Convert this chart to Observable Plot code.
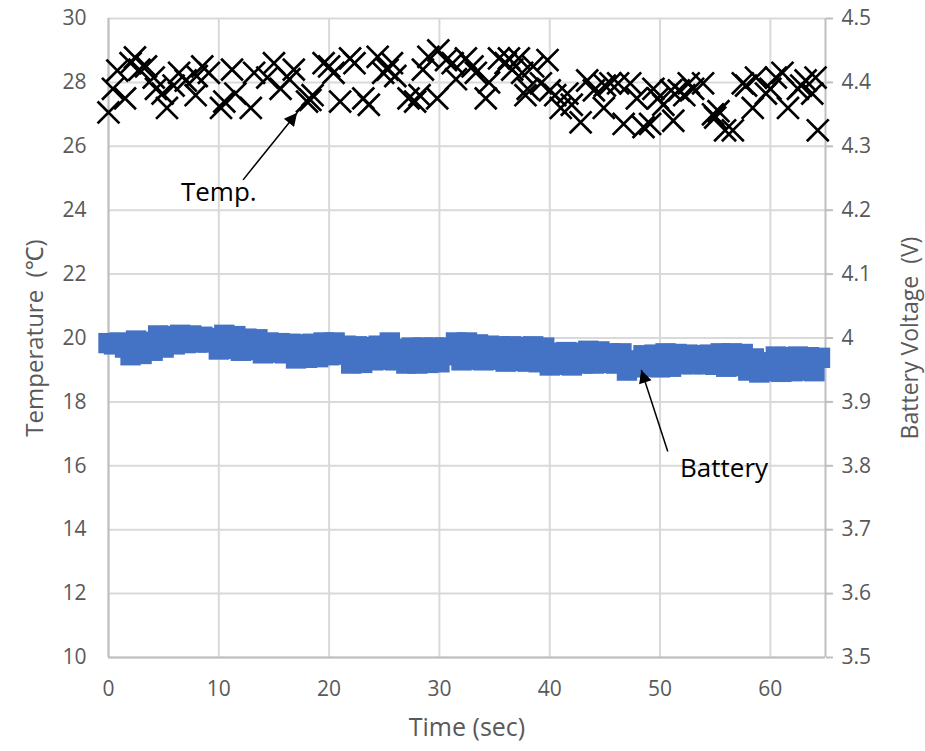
<!DOCTYPE html>
<html><head><meta charset="utf-8">
<script src="https://cdn.jsdelivr.net/npm/d3@7"></script>
<script src="https://cdn.jsdelivr.net/npm/@observablehq/plot@0.6"></script>
<style>
body{margin:0;background:#fff;}
svg{font-family:"Open Sans","Noto Sans",sans-serif;}
</style>
</head><body><div id="chart"></div>
<script>
// Temperature samples (time in s, °C)
const tempTime = [0.0,0.4,0.8,1.5,2.0,2.4,2.8,3.4,4.1,4.3,4.9,5.3,5.9,6.4,7.0,7.9,8.0,8.5,9.1,10.2,10.5,11.2,11.5,12.9,13.2,14.4,15.0,15.6,16.4,16.8,18.0,18.3,18.5,19.5,20.0,20.4,21.0,21.9,22.3,23.1,23.6,24.4,24.9,25.3,25.7,26.0,27.2,27.8,28.2,28.5,29.0,29.8,29.9,30.6,31.2,31.5,32.4,33.0,33.3,34.2,34.5,35.4,36.0,36.3,36.6,37.2,37.5,37.8,38.0,38.5,39.2,39.8,40.0,40.5,41.0,41.6,42.0,42.8,43.4,44.0,44.9,45.0,45.5,46.2,46.7,47.3,47.9,48.5,49.1,49.4,49.8,50.3,51.0,51.2,51.7,52.2,52.6,53.0,53.9,54.8,55.0,55.3,55.9,56.6,57.5,57.8,58.4,58.7,59.6,60.0,60.5,61.1,61.6,62.5,62.8,63.2,63.8,64.1,64.3];
const tempValue = [27.06,27.8,28.37,27.5,28.6,28.78,28.4,28.5,28.15,27.8,27.65,27.2,27.9,28.3,28.06,27.6,28.2,28.5,28.3,27.2,27.4,28.4,27.65,27.2,28.3,28.15,28.6,27.8,28.1,28.4,27.4,27.45,27.6,28.6,28.5,28.3,27.4,28.75,28.6,27.5,27.3,28.8,28.3,28.4,28.6,28.2,27.5,27.4,27.6,28.4,28.8,27.5,29.0,28.7,28.6,28.1,28.75,28.5,28.3,27.5,28.0,28.75,28.6,28.75,28.4,28.75,28.3,27.6,27.8,28.5,27.97,28.7,27.75,27.6,27.2,27.65,27.3,26.75,28.06,27.75,27.2,27.9,27.97,27.97,26.7,27.97,27.5,26.6,26.7,27.8,27.5,27.3,27.75,26.8,27.75,27.6,27.97,27.8,27.97,27.0,26.9,27.1,26.5,26.5,27.97,27.9,27.2,28.15,27.65,27.8,28.15,28.3,27.2,27.8,27.9,28.06,27.65,28.15,26.5];

// Battery samples (time in s, volts)
const battTime = [0,0.5,1,1.5,2,2.5,3,3.5,4,4.5,5,5.5,6,6.5,7,7.5,8,8.5,9,9.5,10,10.5,11,11.5,12,12.5,13,13.5,14,14.5,15,15.5,16,16.5,17,17.5,18,18.5,19,19.5,20,20.5,21,21.5,22,22.5,23,23.5,24,24.5,25,25.5,26,26.5,27,27.5,28,28.5,29,29.5,30,30.5,31,31.5,32,32.5,33,33.5,34,34.5,35,35.5,36,36.5,37,37.5,38,38.5,39,39.5,40,40.5,41,41.5,42,42.5,43,43.5,44,44.5,45,45.5,46,46.5,47,47.5,48,48.5,49,49.5,50,50.5,51,51.5,52,52.5,53,53.5,54,54.5,55,55.5,56,56.5,57,57.5,58,58.5,59,59.5,60,60.5,61,61.5,62,62.5,63,63.5,64,64.5];
const battVolt = [3.992,3.990,3.993,3.985, 3.973,3.996,3.975,3.994, 3.980,4.004,3.985,4.003, 3.990,4.005,3.992,4.004,
  3.993,4.002,3.993,4.000, 3.982,4.005,3.983,4.003, 3.980,3.999,3.981,3.998, 3.976,3.993,3.977,3.992,
  3.976,3.991,3.968,3.990, 3.969,3.991,3.970,3.993, 3.973,3.993,3.974,3.988, 3.960,3.987,3.961,3.986,
  3.965,3.988,3.966,3.993, 3.965,3.983,3.960,3.985, 3.960,3.985,3.961,3.985, 3.962,3.985,3.973,3.993,
  3.965,3.993,3.966,3.990, 3.965,3.988,3.966,3.987, 3.963,3.987,3.964,3.986, 3.963,3.987,3.962,3.985,
  3.957,3.977,3.958,3.978, 3.957,3.977,3.960,3.980, 3.960,3.979,3.961,3.976, 3.960,3.976,3.949,3.965,
  3.954,3.973,3.955,3.974, 3.954,3.976,3.955,3.975, 3.959,3.974,3.959,3.973, 3.959,3.974,3.958,3.976,
  3.955,3.976,3.956,3.975, 3.949,3.968,3.946,3.962, 3.948,3.971,3.947,3.970, 3.948,3.971,3.949,3.970,
  3.948,3.969];

// Axes
const xTicks = [0,10,20,30,40,50,60];
const tempTicks = [10,12,14,16,18,20,22,24,26,28,30];
const voltTickLabels = ["3.5","3.6","3.7","3.8","3.9","4","4.1","4.2","4.3","4.4","4.5"];
const voltMin = 3.5, voltMax = 4.5, tempMin = 10, tempMax = 30;

// Annotations (time, °C)
const annotLabels = ["Temp.","Battery"];
const annotTextT = [10.0, 55.8];
const annotTextY = [24.55, 15.92];
const arrowFromT = [12.2, 50.7];
const arrowFromY = [24.95, 16.45];
const arrowToT = [17.1, 48.3];
const arrowToY = [27.05, 19.0];

const toTemp = v => tempMin + (v - voltMin) / (voltMax - voltMin) * (tempMax - tempMin);

const temp = tempTime.map((t, i) => ({t, v: tempValue[i]}));
const batt = battTime.map((t, i) => ({t, v: toTemp(battVolt[i])}));
const annots = annotLabels.map((label, i) => ({label, t: annotTextT[i], y: annotTextY[i],
  x1: arrowFromT[i], y1: arrowFromY[i], x2: arrowToT[i], y2: arrowToY[i]}));

const gray = "#595959";
const gridC = "#d9d9d9";
const axisC = "#bfbfbf";

const plot = Plot.plot({
  width: 925,
  height: 751,
  marginLeft: 108,
  marginRight: 100,
  marginTop: 18,
  marginBottom: 94,
  x: {domain: [0, 65]},
  y: {domain: [tempMin, tempMax]},
  style: {fontSize: "21px", color: gray, background: "#fff"},
  marks: [
    Plot.gridX(xTicks, {stroke: gridC, strokeOpacity: 1, strokeWidth: 2}),
    Plot.gridY(tempTicks, {stroke: gridC, strokeOpacity: 1, strokeWidth: 2}),
    Plot.ruleX([0], {stroke: axisC, strokeWidth: 2}),
    Plot.ruleX([65], {stroke: axisC, strokeWidth: 2}),
    Plot.ruleY([tempMin], {stroke: axisC, strokeWidth: 2}),
    Plot.axisX(xTicks, {anchor: "bottom", tickSize: 0, tickPadding: 24, fill: gray, fontSize: 21, label: null}),
    Plot.axisY(tempTicks, {anchor: "left", tickSize: 0, tickPadding: 22, fill: gray, fontSize: 21, label: null}),
    Plot.axisY(tempTicks, {anchor: "right", tickSize: 7, tickPadding: 9, stroke: axisC, strokeWidth: 2, fill: gray, fontSize: 21, label: null,
      tickFormat: (d) => voltTickLabels[tempTicks.indexOf(d)]}),
    Plot.text(["Time (sec)"], {frameAnchor: "bottom", dy: 78, fill: gray, fontSize: 25, textAnchor: "middle"}),
    Plot.text(["Temperature  (℃)"], {frameAnchor: "left", dx: -73, rotate: -90, fill: gray, fontSize: 24, textAnchor: "middle"}),
    Plot.text(["Battery Voltage  (V)"], {frameAnchor: "right", dx: 85, rotate: -90, fill: gray, fontSize: 23, textAnchor: "middle"}),
    Plot.dot(batt, {x: "t", y: "v", symbol: "square", r: 11.5, fill: "#4472C4", stroke: "none"}),
    Plot.dot(temp, {x: "t", y: "v", symbol: "times", r: 10, stroke: "#000", strokeWidth: 2.7}),
    Plot.link(annots, {x1: "x1", y1: "y1", x2: "x2", y2: "y2", stroke: "#000", strokeWidth: 1.5}),
    Plot.text(annots, {x: "t", y: "y", text: "label", fill: "#000", fontSize: 26})
  ]
});

// Filled arrowheads on the annotation links
const svg = d3.select(plot);
const defs = svg.insert("defs", ":first-child");
defs.append("marker").attr("id", "annot-head").attr("viewBox", "0 0 10 10")
  .attr("refX", 10).attr("refY", 5).attr("markerUnits", "userSpaceOnUse")
  .attr("markerWidth", 15).attr("markerHeight", 13).attr("orient", "auto")
  .append("path").attr("d", "M0,0L10,5L0,10z").attr("fill", "#000");
svg.selectAll("g[aria-label=link] path").attr("marker-end", "url(#annot-head)");

document.getElementById("chart").appendChild(plot);
</script>
</body></html>
